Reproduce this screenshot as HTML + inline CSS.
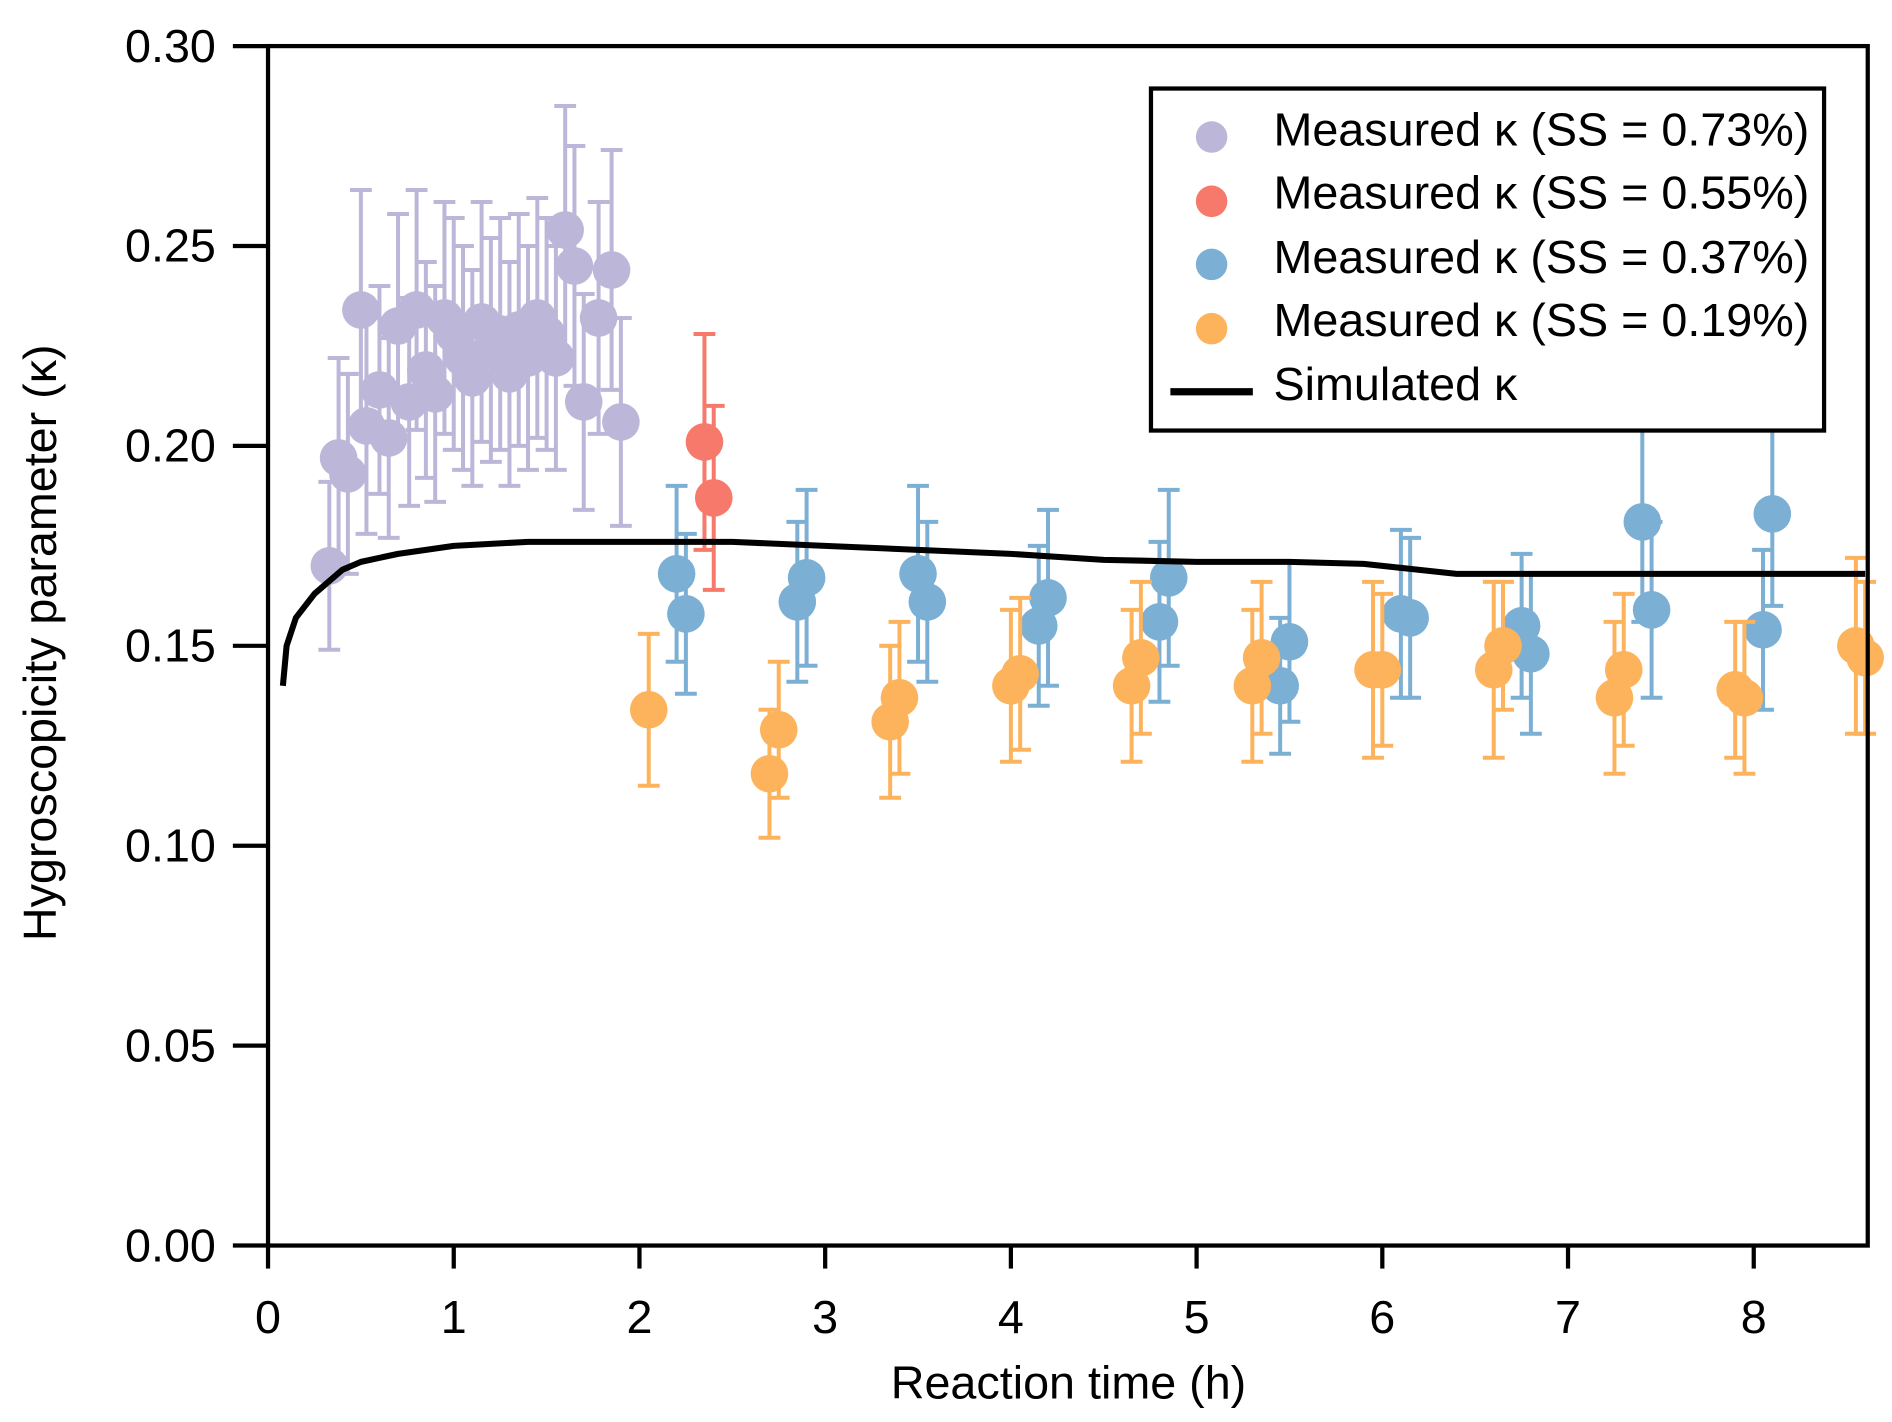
<!DOCTYPE html>
<html><head><meta charset="utf-8"><style>
html,body{margin:0;padding:0;background:#fff;}
svg{display:block;}
text{font-family:"Liberation Sans",Arial,sans-serif;fill:#000;}
</style></head><body>
<svg id="chart" width="1892" height="1422" viewBox="0 0 1560 1172.5" preserveAspectRatio="none" xmlns="http://www.w3.org/2000/svg">
<g id="marks"></g>
<g id="axes"></g>
</svg>
<script>
const xTicks=[0,1,2,3,4,5,6,7,8];
const yTicks=[0,0.05,0.10,0.15,0.20,0.25,0.30];
const purpleX=[0.33,0.38,0.43,0.50,0.53,0.60,0.65,0.70,0.76,0.80,0.85,0.90,0.95,1.00,1.05,1.10,1.15,1.20,1.25,1.30,1.35,1.40,1.45,1.50,1.55,1.60,1.65,1.70,1.78,1.85,1.90];
const purpleY=[0.170,0.197,0.193,0.234,0.205,0.214,0.202,0.230,0.211,0.234,0.219,0.213,0.232,0.228,0.222,0.217,0.231,0.224,0.228,0.218,0.229,0.222,0.232,0.228,0.222,0.254,0.245,0.211,0.232,0.244,0.206];
const purpleE=[0.021,0.025,0.025,0.030,0.027,0.026,0.025,0.028,0.026,0.030,0.027,0.027,0.029,0.029,0.028,0.027,0.030,0.028,0.029,0.028,0.029,0.028,0.030,0.029,0.028,0.031,0.030,0.027,0.029,0.030,0.026];
const redX=[2.35,2.40];
const redY=[0.201,0.187];
const redE=[0.027,0.023];
const blueX=[2.20,2.25,2.85,2.90,3.50,3.55,4.15,4.20,4.80,4.85,5.45,5.50,6.10,6.15,6.75,6.80,7.40,7.45,8.05,8.10];
const blueY=[0.168,0.158,0.161,0.167,0.168,0.161,0.155,0.162,0.156,0.167,0.140,0.151,0.158,0.157,0.155,0.148,0.181,0.159,0.154,0.183];
const blueE=[0.022,0.020,0.020,0.022,0.022,0.020,0.020,0.022,0.020,0.022,0.017,0.020,0.021,0.020,0.018,0.020,0.025,0.022,0.020,0.023];
const orangeX=[2.05,2.70,2.75,3.35,3.40,4.00,4.05,4.65,4.70,5.30,5.35,5.95,6.00,6.60,6.65,7.25,7.30,7.90,7.95,8.55,8.60];
const orangeY=[0.134,0.118,0.129,0.131,0.137,0.140,0.143,0.140,0.147,0.140,0.147,0.144,0.144,0.144,0.150,0.137,0.144,0.139,0.137,0.150,0.147];
const orangeE=[0.019,0.016,0.017,0.019,0.019,0.019,0.019,0.019,0.019,0.019,0.019,0.022,0.019,0.022,0.016,0.019,0.019,0.017,0.019,0.022,0.019];
const simX=[0.08,0.10,0.15,0.25,0.40,0.50,0.70,1.00,1.40,1.90,2.50,3.00,3.50,4.00,4.50,5.00,5.50,5.90,6.20,6.40,6.60,7.00,8.00,8.60];
const simY=[0.140,0.150,0.157,0.163,0.169,0.171,0.173,0.175,0.176,0.176,0.176,0.175,0.174,0.173,0.1715,0.171,0.171,0.1705,0.169,0.168,0.168,0.168,0.168,0.168];

const X0=221,X1=1540,Y0=1027,Y1=38;
const xs=v=>X0+v*(1446-221)/8;
const ys=v=>Y0-v*(Y0-Y1)/0.3;
const NS='http://www.w3.org/2000/svg';
const marks=document.getElementById('marks'),axes=document.getElementById('axes');
function mk(tag,attrs,parent){const e=document.createElementNS(NS,tag);for(const k in attrs)e.setAttribute(k,attrs[k]);parent.appendChild(e);return e;}

function series(name,X,Y,E,color){
  const g=mk('g',{},marks);
  
  
  for(let i=0;i<X.length;i++){
    const cx=xs(X[i]),t=ys(Y[i]+E[i]),b=ys(Y[i]-E[i]);
    const eb=mk('path',{d:`M${cx},${t}V${b}M${cx-9},${t}H${cx+9}M${cx-9},${b}H${cx+9}`,stroke:color,'stroke-width':3.3,fill:'none'},g);
    
    
  }
  for(let i=0;i<X.length;i++){
    const c=mk('circle',{cx:xs(X[i]),cy:ys(Y[i]),r:15.5,fill:color},g);
    
    
  }
}
series('purple',purpleX,purpleY,purpleE,'#bcb7d9');
series('red',redX,redY,redE,'#f7796c');
series('blue',blueX,blueY,blueE,'#7bafd4');
series('orange',orangeX,orangeY,orangeE,'#fdb35c');
const line=mk('path',{d:simX.map((v,i)=>(i?'L':'M')+xs(v)+','+ys(simY[i])).join(''),stroke:'#000','stroke-width':5,fill:'none','stroke-linejoin':'round'},marks);



const frame=mk('rect',{x:X0,y:Y1,width:X1-X0,height:Y0-Y1,fill:'none',stroke:'#000','stroke-width':3.5},axes);


yTicks.forEach(v=>{
  const y=ys(v);
  const t=mk('line',{x1:192,x2:X0,y1:y,y2:y,stroke:'#000','stroke-width':3.5},axes);
  
  
  const l=mk('text',{x:178,y:y+13,'text-anchor':'end','font-size':38.5},axes);
  l.textContent=v.toFixed(2);
  
  
});
xTicks.forEach(v=>{
  const x=xs(v);
  const t=mk('line',{x1:x,x2:x,y1:Y0,y2:1046,stroke:'#000','stroke-width':3.5},axes);
  
  
  const l=mk('text',{x:x,y:1099,'text-anchor':'middle','font-size':38.5},axes);
  l.textContent=v;
  
  
});
</script>
<svg style="position:absolute;left:0;top:0" width="1892" height="1422" viewBox="0 0 1560 1172.5" preserveAspectRatio="none" xmlns="http://www.w3.org/2000/svg">
<text x="881" y="1153" text-anchor="middle" font-size="38.5">Reaction time (h)</text>
<text transform="translate(46,530) rotate(-90)" text-anchor="middle" font-size="38.5">Hygroscopicity parameter (κ)</text>
<g>
<rect x="949" y="73" width="555" height="282" fill="#fff" stroke="#000" stroke-width="3.5"/>
<g><circle cx="999" cy="113" r="13" fill="#bcb7d9"/><text x="1050" y="120" font-size="38.5">Measured κ (SS = 0.73%)</text></g>
<g><circle cx="999" cy="166" r="13" fill="#f7796c"/><text x="1050" y="172" font-size="38.5">Measured κ (SS = 0.55%)</text></g>
<g><circle cx="999" cy="218" r="13" fill="#7bafd4"/><text x="1050" y="225" font-size="38.5">Measured κ (SS = 0.37%)</text></g>
<g><circle cx="999" cy="271" r="13" fill="#fdb35c"/><text x="1050" y="277" font-size="38.5">Measured κ (SS = 0.19%)</text></g>
<g><line x1="965" x2="1033" y1="323" y2="323" stroke="#000" stroke-width="6"/><text x="1050" y="330" font-size="38.5">Simulated κ</text></g>
</g>
</svg>
</body></html>
